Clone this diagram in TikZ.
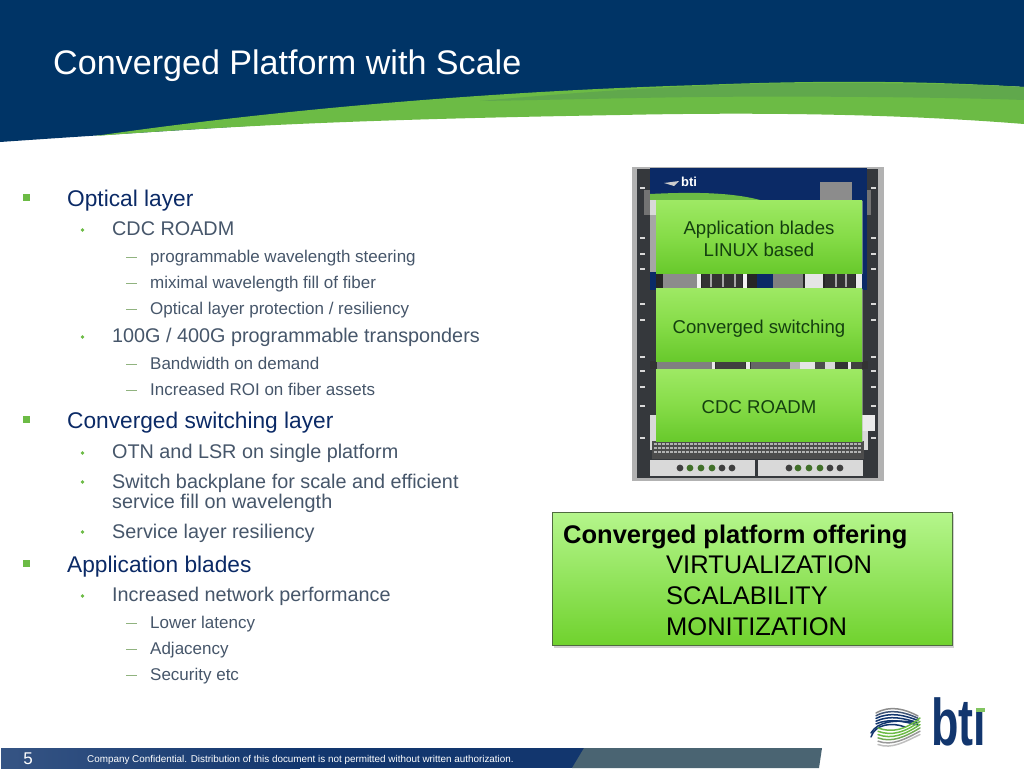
\documentclass[tikz,border=0pt]{standalone}
\usepackage{fontspec}
\setmainfont{Liberation Sans}
\definecolor{navy}{HTML}{003466}
\definecolor{lgreen}{HTML}{6CBB45}
\definecolor{dgreen}{HTML}{60A84C}
\definecolor{headtext}{HTML}{0B2A66}
\definecolor{subtext}{HTML}{46566A}
\definecolor{rail}{HTML}{35383C}
\definecolor{logonavy}{HTML}{12366E}
\definecolor{footgrey}{HTML}{4A6472}
\definecolor{offerline}{HTML}{4F6B3F}
\definecolor{racktext}{HTML}{14400F}
\definecolor{HTMLa}{HTML}{9EE964}
\definecolor{HTMLb}{HTML}{68C92C}
\definecolor{HTMLc}{HTML}{86DC48}
\definecolor{HTMLd}{HTML}{B5F68C}
\definecolor{HTMLe}{HTML}{70D22E}
\newcommand{\fs}[1]{\fontsize{#1}{#1}\selectfont}
\tikzset{
  lone/.style={anchor=base west,inner sep=0pt,text=headtext,font=\fs{22.7}},
  ltwo/.style={anchor=base west,inner sep=0pt,text=subtext,font=\fs{19.8}},
  lthree/.style={anchor=base west,inner sep=0pt,text=subtext,font=\fs{17}},
  bsq/.style={fill=lgreen,draw=none,inner sep=0pt,minimum width=7pt,minimum height=7pt},
  bdot/.style={circle,fill=lgreen,draw=none,inner sep=0pt,minimum size=3.6pt},
  bdash/.style={fill=lgreen!55!gray!80,draw=none,inner sep=0pt,minimum width=11pt,minimum height=1.2pt},
  rackbox/.style={inner sep=0pt,minimum width=206pt,top color=HTMLa,bottom color=HTMLb,middle color=HTMLc,text=racktext,align=center,font=\fs{18.6}},
  offerbox/.style={inner sep=0pt,minimum width=400pt,minimum height=133pt,draw=offerline,line width=1pt,top color=HTMLd,bottom color=HTMLe},
  offertext/.style={anchor=base west,inner sep=0pt,text=black,font=\fs{25.5}},
  swoosh/.style={line width=1.5pt,line cap=round},
}
\begin{document}
\begin{tikzpicture}[x=1pt,y=-1pt]
\useasboundingbox (0,0) rectangle (1024,768);
\fill[white] (0,0) rectangle (1024,768);
% header
\fill[navy] (0,0) -- (1024,0) -- (1024,87) .. controls (900,80) and (780,84) .. (620,100) .. controls (400,118) and (200,128) .. (0,142) -- cycle;
\fill[lgreen] (95,136) .. controls (260,112) and (470,92) .. (700,85) .. controls (820,80) and (930,81) .. (1024,87) -- (1024,124) .. controls (900,114) and (760,112) .. (620,115) .. controls (450,118) and (280,122) .. (95,136) -- cycle;
\fill[dgreen] (480,101) .. controls (600,90) and (720,83) .. (817,83) .. controls (900,83) and (970,84) .. (1024,87) -- (1024,100) .. controls (940,97) and (800,96) .. (700,97) .. controls (620,98) and (550,100) .. (480,101) -- cycle;
\node[anchor=base west,inner sep=0pt,text=white,font=\fs{34.1}] (title) at (53,74.5) {Converged Platform with Scale};
% body text
\node[bsq] (b1) at (26.5,197) {};
\node[lone] (t1) at (67,206) {Optical layer};
\node[bdot] (b2) at (82.5,230) {};
\node[ltwo] (t2) at (112,235) {CDC ROADM};
\node[bdash] (d1) at (131,257.5) {};
\node[lthree] (t3) at (150,262) {programmable wavelength steering};
\node[bdash] (d2) at (131,283.5) {};
\node[lthree] (t4) at (150,288) {miximal wavelength fill of fiber};
\node[bdash] (d3) at (131,309.5) {};
\node[lthree] (t5) at (150,314) {Optical layer protection / resiliency};
\node[bdot] (b3) at (82.5,337) {};
\node[ltwo] (t6) at (112,342) {100G / 400G programmable transponders};
\node[bdash] (d4) at (131,364.5) {};
\node[lthree] (t7) at (150,369) {Bandwidth on demand};
\node[bdash] (d5) at (131,390.5) {};
\node[lthree] (t8) at (150,395) {Increased ROI on fiber assets};
\node[bsq] (b4) at (26.5,419) {};
\node[lone] (t9) at (67,428) {Converged switching layer};
\node[bdot] (b5) at (82.5,453) {};
\node[ltwo] (t10) at (112,458) {OTN and LSR on single platform};
\node[bdot] (b6) at (82.5,482) {};
\node[ltwo] (t11) at (112,488) {Switch backplane for scale and efficient};
\node[ltwo] (t12) at (112,508) {service fill on wavelength};
\node[bdot] (b7) at (82.5,532) {};
\node[ltwo] (t13) at (112,538) {Service layer resiliency};
\node[bsq] (b8) at (26.5,563) {};
\node[lone] (t14) at (67,572) {Application blades};
\node[bdot] (b9) at (82.5,596) {};
\node[ltwo] (t15) at (112,601) {Increased network performance};
\node[bdash] (d6) at (131,623.5) {};
\node[lthree] (t16) at (150,628) {Lower latency};
\node[bdash] (d7) at (131,649.5) {};
\node[lthree] (t17) at (150,654) {Adjacency};
\node[bdash] (d8) at (131,675.5) {};
\node[lthree] (t18) at (150,680) {Security etc};
% rack picture
\fill[black!30] (631.5,166.5) rectangle (883.5,481);
\fill[rail] (637,169) rectangle (878,478);
\fill[black!55] (644,190) rectangle (651,215);
\fill[black!55] (865,190) rectangle (871,215);
\fill[headtext] (650,168) rectangle (867,290);
\fill[lgreen] (650,194) .. controls (690,192) and (730,192) .. (760,200) -- (650,200) -- cycle;
\fill[black!45] (820,182) rectangle (852,200);
\node[anchor=base west,inner sep=0pt,text=white,font=\fs{13}\bfseries] (rackbti) at (681,186) {bti};
\fill[white!80!black] (664,183) -- (679,181) -- (674,186) -- cycle;
\fill[white!85!black] (650,200) rectangle (656,215);
\fill[black!35] (650,215) rectangle (656,272);
\foreach \y in {187,237,253,268,303,319,356,370,386,405,437}{
  \fill[black!15] (640,\y) rectangle (645,\y+2);
  \fill[black!15] (871,\y) rectangle (876,\y+2);
}
% strips between the boxes
\fill[black!85] (656,273) rectangle (862,288);
\foreach \a/\b/\g in {663/697/45,697/701/5,702/742/80,743/747/5,747/757/85,773/803/50,805/823/10,825/855/80,856/862/8}{
  \fill[black!\g] (\a,273.5) rectangle (\b,287.5);
}
\fill[headtext] (757,273.5) rectangle (773,287.5);
\foreach \x in {710,722,734,835,845}{
  \fill[black!35] (\x,274) rectangle (\x+2,287);
}
\fill[black!80] (650,361) rectangle (868,369);
\foreach \a/\b/\g in {657/712/50,712/715/8,716/745/75,746/750/8,751/790/60,790/800/30,800/815/10,815/825/70,825/835/15,835/848/80,848/851/8,851/862/75}{
  \fill[black!\g] (\a,361.5) rectangle (\b,368.5);
}
\fill[white!85!black] (650,415) rectangle (868,450);
\fill[white!92!black] (862,415) rectangle (875,431);
% lower mesh and modules
\fill[black!70] (652,441) rectangle (864,459);
\foreach \x in {654,658,...,860}{
  \fill[black!30] (\x,443) rectangle (\x+2.5,445);
  \fill[black!30] (\x,447) rectangle (\x+2.5,449);
  \fill[black!30] (\x,451) rectangle (\x+2.5,453);
}
\fill[black!15] (650,459.5) rectangle (755,476);
\fill[black!15] (758,459.5) rectangle (863,476);
\foreach \x/\c in {680/black!75,690/lgreen!60!black,701/lgreen!60!black,712/lgreen!60!black,722/black!75,732/black!75,789/black!75,798/lgreen!60!black,809/lgreen!60!black,820/lgreen!60!black,830/black!75,840/black!75}{
  \fill[\c] (\x,468) circle (3.4pt);
}
% rack labels
\fill[black!25,opacity=.5] (657,201) rectangle (863,274);
\fill[black!25,opacity=.5] (657,289) rectangle (863,362);
\fill[black!25,opacity=.5] (657,370) rectangle (863,442);
\node[rackbox,minimum height=73pt] (r1) at (759,236.5) {};
\node[rackbox,minimum height=73pt] (r2) at (759,324.5) {};
\node[rackbox,minimum height=72pt] (r3) at (759,405) {};
\node[anchor=base,inner sep=0pt,text=racktext,font=\fs{18.6}] (r1a) at (759,234.5) {Application blades};
\node[anchor=base,inner sep=0pt,text=racktext,font=\fs{18.6}] (r1b) at (759,256) {LINUX based};
\node[anchor=base,inner sep=0pt,text=racktext,font=\fs{18.6}] (r2a) at (759,333) {Converged switching};
\node[anchor=base,inner sep=0pt,text=racktext,font=\fs{18.6}] (r3a) at (759,413) {CDC ROADM};
% offering box
\fill[black!40,opacity=.45] (553.5,514) rectangle (954,647.5);
\node[offerbox] (offer) at (752.5,578.5) {};
\node[offertext,font=\fs{25.5}\bfseries] (o1) at (563,543) {Converged platform offering};
\node[offertext] (o2) at (666,573) {VIRTUALIZATION};
\node[offertext] (o3) at (666,604) {SCALABILITY};
\node[offertext] (o4) at (666,635) {MONITIZATION};
% logo
\foreach \d/\c in {0/black!45,3.2/logonavy!60!gray,6.4/logonavy,9.6/logonavy,12.8/logonavy}{
  \draw[swoosh,\c] (876,{713+\d*.85}) .. controls (890,{705+\d}) and (905,{709+\d}) .. (918,{716+\d*.7});
}
\draw[swoosh,logonavy] (871,737) .. controls (875,724) and (892,722) .. (905,727);
\draw[swoosh,logonavy] (871,733) .. controls (878,721) and (895,720) .. (912,722);
\foreach \d/\c in {0/lgreen,3.3/lgreen,6.6/lgreen,9.9/lgreen!70!gray,13.2/black!40,16.5/black!25}{
  \draw[swoosh,\c] (878,{728+\d}) .. controls (892,{733+\d}) and (905,{730+\d*.7}) .. (920,{718+\d});
}
\node[anchor=base west,inner sep=0pt,text=logonavy,font=\fs{66}\bfseries,xscale=0.68] (logo) at (931,745) {bti};
\fill[white] (970,690) rectangle (992,708.5);
\fill[lgreen!85!white] (976,708) rectangle (985,712);
% footer
\fill[logonavy] (1,748) rectangle (590,768);
\shade[left color=logonavy!85!white,right color=logonavy] (1,748) rectangle (300,768);
\fill[footgrey] (584,748) -- (822,748) -- (819,768) -- (572,768) -- cycle;
\node[anchor=base,inner sep=0pt,text=white,font=\fs{17}] (page) at (28,764) {5};
\node[anchor=base west,inner sep=0pt,text=white,font=\fs{9.88}] (foot) at (87,762) {Company Confidential. Distribution of this document is not permitted without written authorization.};
\end{tikzpicture}
\end{document}
